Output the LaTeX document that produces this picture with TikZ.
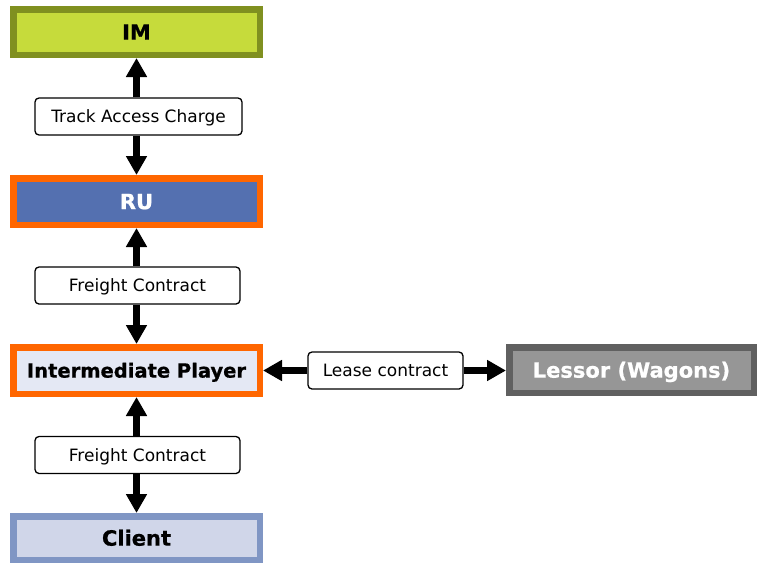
\documentclass[tikz,border=0pt]{standalone}
\usepackage{fontspec}
\setmainfont{DejaVu Sans}[BoldFeatures={FakeBold=0.8}]
\usetikzlibrary{arrows.meta}
\definecolor{imfill}{RGB}{198,219,59}
\definecolor{imborder}{RGB}{128,144,32}
\definecolor{rufill}{RGB}{84,112,176}
\definecolor{orangeb}{RGB}{255,102,0}
\definecolor{ipfill}{RGB}{228,232,244}
\definecolor{clfill}{RGB}{208,214,233}
\definecolor{clborder}{RGB}{128,150,196}
\definecolor{lefill}{RGB}{150,150,150}
\definecolor{leborder}{RGB}{96,96,96}
\tikzset{
  bigbox/.style={draw, line width=6.5pt, minimum width=246.5pt, inner sep=0pt, text height=15.3pt, text depth=0pt, font=\bfseries\fontsize{21}{24}\selectfont},
  lbl/.style={draw, line width=1.3pt, rounded corners=4pt, fill=white, minimum width=205pt, minimum height=37pt, inner sep=0pt, text height=12.4pt, text depth=0pt, font=\fontsize{17}{20}\selectfont},
  conn/.style={line width=7pt, -{Triangle[length=19pt 0 0, width=20pt 0 0]}}
}
\begin{document}
\begin{tikzpicture}[x=1pt,y=-1pt]
\useasboundingbox (0,0) rectangle (757,565);
\node[bigbox, fill=imfill, draw=imborder, minimum height=45.5pt] (im) at (136.5,32) {IM};
\node[bigbox, fill=rufill, draw=orangeb, text=white, minimum height=46.5pt] (ru) at (136.5,201.5) {RU};
\node[bigbox, fill=ipfill, draw=orangeb, minimum height=46.5pt, text height=14.2pt, font=\bfseries\fontsize{19.5}{22}\selectfont] (ip) at (136.5,370.5) {Intermediate Player};
\node[bigbox, fill=clfill, draw=clborder, minimum height=43.5pt] (cl) at (136.5,538) {Client};
\node[bigbox, fill=lefill, draw=leborder, text=white, minimum width=244.5pt, minimum height=45.5pt] (le) at (631.5,370) {Lessor (Wagons)};
\node[lbl, minimum width=207pt] (tac) at (138.5,116.5) {Track Access Charge};
\node[lbl] (fc1) at (137.5,285.5) {Freight Contract};
\node[lbl] (fc2) at (137.5,455) {Freight Contract};
\node[lbl, minimum width=155pt] (lc) at (385.5,370.5) {Lease contract};
\draw[conn] (tac.north -| im.south) -- (im.south);
\draw[conn] (tac.south -| ru.north) -- (ru.north);
\draw[conn] (fc1.north -| ru.south) -- (ru.south);
\draw[conn] (fc1.south -| ip.north) -- (ip.north);
\draw[conn] (fc2.north -| ip.south) -- (ip.south);
\draw[conn] (fc2.south -| cl.north) -- (cl.north);
\draw[conn] (lc.west) -- (ip.east |- lc.west);
\draw[conn] (lc.east) -- (le.west |- lc.east);
\end{tikzpicture}
\end{document}
